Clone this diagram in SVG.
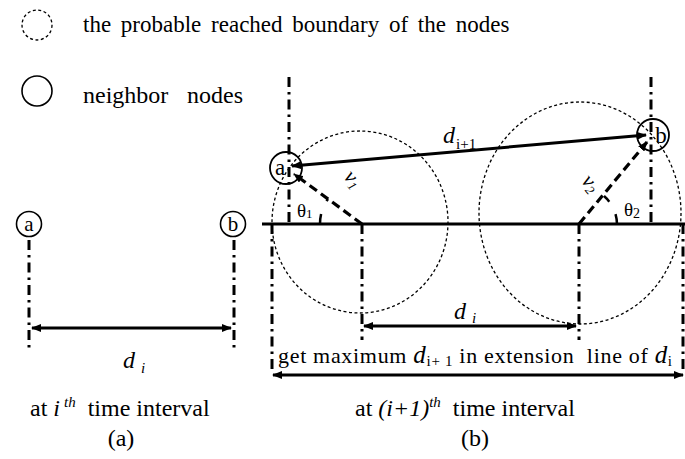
<svg xmlns="http://www.w3.org/2000/svg" width="685" height="459" viewBox="0 0 685 459" font-family="'Liberation Serif', 'Times New Roman', serif">
<defs>
<style>
.node{fill:#fff;stroke:#000;stroke-width:1.6;}
.bnd{fill:none;stroke:#000;stroke-width:1.3;stroke-dasharray:3 2.5;}
.dd{fill:none;stroke:#000;stroke-width:3;stroke-dasharray:10 5 2.5 5;}
.ar{fill:none;stroke:#000;stroke-width:3;}
.vd{fill:none;stroke:#000;stroke-width:3.2;stroke-dasharray:9 5;}
.arc{fill:none;stroke:#000;stroke-width:2.5;stroke-dasharray:10 14;}
</style>
<marker id="ah" viewBox="0 0 10 8" refX="9" refY="4" markerWidth="10" markerHeight="8" markerUnits="userSpaceOnUse" orient="auto-start-reverse">
<path d="M0,0 L10,4 L0,8 z" fill="#000"/>
</marker>
</defs>

<g id="legend" font-size="23">
<circle cx="37" cy="25" r="15" class="bnd" stroke-width="1.6"/>
<text x="83" y="32" style="word-spacing:4px">the probable reached boundary of the nodes</text>
<circle cx="37" cy="91" r="15" class="node"/>
<text x="83" y="103" font-size="24">neighbor</text>
<text x="187" y="103" font-size="24">nodes</text>
</g>

<g id="connectors">
<line class="dd" x1="29" y1="240" x2="29" y2="350"/>
<line class="dd" x1="234" y1="240" x2="234" y2="350"/>
<line class="ar" x1="32" y1="328" x2="231" y2="328" marker-start="url(#ah)" marker-end="url(#ah)"/>
<line class="ar" x1="262" y1="224" x2="685" y2="224"/>
<line class="dd" x1="289" y1="77" x2="289" y2="224"/>
<line class="dd" x1="651" y1="77" x2="651" y2="224"/>
<line class="dd" x1="272" y1="224" x2="272" y2="372"/>
<line class="dd" x1="683" y1="224" x2="683" y2="372"/>
<line class="dd" x1="362" y1="224" x2="362" y2="340"/>
<line class="dd" x1="579" y1="224" x2="579" y2="340"/>
<line class="ar" x1="364" y1="326" x2="576" y2="326" marker-start="url(#ah)" marker-end="url(#ah)"/>
<line class="ar" x1="273" y1="375" x2="683" y2="375" marker-start="url(#ah)" marker-end="url(#ah)"/>
<line class="ar" x1="292" y1="166" x2="646" y2="135" marker-start="url(#ah)" marker-end="url(#ah)"/>
<line class="vd" x1="362" y1="224" x2="294" y2="174" marker-end="url(#ah)"/>
<line class="vd" x1="579" y1="224" x2="647" y2="142" marker-end="url(#ah)"/>
<path class="arc" d="M320,224 A42,42 0 0 1 328,199"/>
<path class="arc" d="M617,224 A38,38 0 0 0 604,196"/>
</g>

<g id="boundary1"><ellipse cx="360" cy="222" rx="88" ry="91" class="bnd"/></g>
<g id="boundary2"><ellipse cx="580" cy="213" rx="101" ry="111" class="bnd"/></g>

<g id="node-a-i" font-size="21">
<circle cx="29" cy="224" r="12.5" class="node"/>
<text x="29" y="231" text-anchor="middle">a</text>
</g>
<g id="node-b-i" font-size="21">
<circle cx="233" cy="224" r="12.5" class="node"/>
<text x="233" y="231" text-anchor="middle">b</text>
</g>
<g id="node-a-i1" font-size="23">
<circle cx="286" cy="168" r="16" fill="none" stroke="#000" stroke-width="1.8"/>
<text x="280" y="175" text-anchor="middle">a</text>
</g>
<g id="node-b-i1" font-size="23">
<circle cx="653" cy="135" r="16" fill="none" stroke="#000" stroke-width="1.8"/>
<text x="661" y="143" text-anchor="middle">b</text>
</g>

<g id="labels" font-size="24">
<text x="123" y="368" font-size="24" font-style="italic">d</text>
<text x="141" y="373" font-size="15" font-style="italic">i</text>
<text x="30" y="416">at <tspan font-style="italic">i</tspan><tspan font-style="italic" font-size="15" dx="4" dy="-9">th</tspan><tspan dy="9" xml:space="preserve">  time interval</tspan></text>
<text x="121" y="446" text-anchor="middle">(a)</text>

<text x="443" y="143" font-size="24" font-style="italic">d</text>
<text x="456" y="149" font-size="15">i+1</text>
<text x="297" y="217" font-size="19">θ<tspan font-size="13" dy="1">1</tspan></text>
<text x="624" y="216" font-size="19">θ<tspan font-size="14" dy="2">2</tspan></text>
<text x="337" y="180" font-size="21" font-style="italic" transform="rotate(50 343 185)">ν<tspan font-size="13" dy="3">1</tspan></text>
<text x="574" y="184" font-size="21" font-style="italic" transform="rotate(50 580 190)">ν<tspan font-size="13" dy="3">2</tspan></text>

<text x="454" y="319" font-size="24" font-style="italic">d</text>
<text x="472" y="323" font-size="15" font-style="italic">i</text>

<text x="278" y="363" font-size="22" textLength="394" lengthAdjust="spacing">get maximum <tspan font-style="italic" font-size="25">d</tspan><tspan font-size="15" dy="3">i+ 1</tspan><tspan dy="-3" xml:space="preserve"> in extension  line of </tspan><tspan font-style="italic" font-size="25">d</tspan><tspan font-size="15" dy="3">i</tspan></text>

<text x="355" y="416">at <tspan font-style="italic">(i+1)</tspan><tspan font-style="italic" font-size="15" dy="-9">th</tspan><tspan dy="9" xml:space="preserve">  time interval</tspan></text>
<text x="475" y="446" text-anchor="middle">(b)</text>
</g>
</svg>
